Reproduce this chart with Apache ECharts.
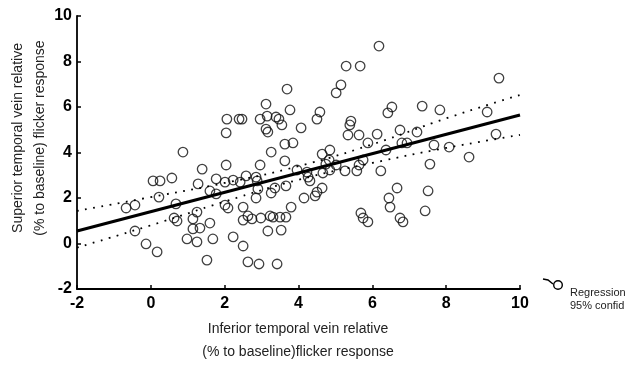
<!DOCTYPE html>
<html>
<head>
<meta charset="utf-8">
<script src="https://cdn.jsdelivr.net/npm/echarts@6/dist/echarts.min.js"></script>
<style>
html,body{margin:0;padding:0;background:#fff;}
#chart{width:633px;height:366px;}
</style>
</head>
<body>
<div id="chart"></div>
<script>
// Scatter values (inferior temporal vein, superior temporal vein)
const xValues = [6.18,5.29,5.67,3.69,5.15,5.02,9.43,3.12,3.77,4.58,4.50,2.06,2.39,2.47,2.96,3.15,3.39,3.47,3.55,3.12,3.17,4.07,2.04,5.42,5.39,5.34,5.64,3.63,3.85,3.26,4.85,4.64,5.88,6.42,6.53,7.35,7.83,9.11,6.13,6.75,7.21,6.80,6.94,6.37,7.67,8.08,9.35,8.62,0.87,
1.39,0.06,0.25,0.57,2.04,1.28,1.77,1.60,1.77,2.01,0.22,-0.67,-0.43,0.68,2.01,2.09,0.63,0.71,1.25,1.14,1.14,1.33,1.60,-0.43,0.98,1.25,1.68,-0.13,0.17,1.52,
3.63,2.96,2.58,2.85,2.88,2.42,2.23,2.90,3.36,3.26,3.66,2.85,3.96,2.50,3.80,2.63,2.50,2.74,2.98,3.23,3.31,3.50,3.66,3.17,3.53,2.23,2.50,2.63,2.93,3.42,
4.83,4.74,5.02,4.85,4.66,5.26,5.58,5.64,5.75,4.23,4.31,4.26,4.15,4.45,4.50,4.64,5.69,5.75,5.88,6.23,7.56,6.67,7.51,6.45,6.48,7.43,6.75,6.83];
const yValues = [8.68,7.80,7.80,6.79,6.97,6.62,7.27,6.13,5.87,5.78,5.47,5.47,5.47,5.47,5.47,5.60,5.56,5.47,5.21,5.03,4.90,5.08,4.86,5.38,5.21,4.77,4.77,4.37,4.42,4.02,4.11,3.93,4.42,5.74,6.00,6.04,5.87,5.78,4.81,4.99,4.90,4.42,4.42,4.11,4.33,4.24,4.81,3.80,4.02,
3.27,2.75,2.75,2.88,3.45,2.62,2.84,2.31,2.18,2.70,2.04,1.56,1.69,1.74,1.69,1.56,1.12,0.99,1.38,1.08,0.64,0.68,0.90,0.55,0.20,0.07,0.20,-0.02,-0.37,-0.73,
3.63,3.45,2.97,2.92,2.75,2.70,2.79,2.40,2.44,2.22,2.53,2.00,3.23,1.60,1.60,1.21,1.03,1.08,1.12,1.21,1.16,1.16,1.16,0.55,0.59,0.29,-0.11,-0.81,-0.90,-0.90,
3.67,3.49,3.45,3.23,3.10,3.19,3.19,3.45,3.67,3.14,2.75,2.92,2.00,2.09,2.26,2.44,1.34,1.12,0.95,3.19,3.49,2.44,2.31,2.00,1.60,1.43,1.12,0.95];

// Regression line end points and 95% confidence band
const regX = [-2, 10];
const regY = [0.55, 5.65];
const bandX = [-2, 0, 2, 4, 6, 8, 10];
const bandUpper = [1.43, 2.04, 2.66, 3.40, 4.36, 5.50, 6.53];
const bandLower = [-0.18, 0.80, 1.84, 2.80, 3.54, 4.20, 4.77];

// Axis tick labels
const xTicks = [-2, 0, 2, 4, 6, 8, 10];
const yTicks = [-2, 0, 2, 4, 6, 8, 10];

const xTitle = ['Inferior temporal vein relative', '(% to baseline)flicker response'];
const yTitle = ['Superior temporal vein relative', '(% to baseline) flicker response'];
const legendText = ['Regression', '95% confid'];

const font = '"Liberation Sans", Arial, Helvetica, sans-serif';
const zip = (a, b) => a.map((v, i) => [v, b[i]]);

const chart = echarts.init(document.getElementById('chart'), null, {renderer: 'canvas'});
const axisCommon = {
  interval: 2,
  axisLine: {show: true, onZero: false, lineStyle: {color: '#000', width: 1.8}},
  axisTick: {show: true, inside: true, length: 4, lineStyle: {color: '#000', width: 1.5}},
  splitLine: {show: false},
  axisLabel: {color: '#000', fontFamily: font, fontWeight: 'bold', fontSize: 16}
};
chart.setOption({
  animation: false,
  backgroundColor: '#fff',
  grid: {left: 77, right: 113, top: 16, bottom: 77, containLabel: false},
  xAxis: Object.assign({type: 'value'}, axisCommon, {
    min: xTicks[0], max: xTicks[xTicks.length - 1],
    axisLabel: Object.assign({}, axisCommon.axisLabel, {margin: 7})
  }),
  yAxis: Object.assign({type: 'value'}, axisCommon, {
    min: yTicks[0], max: yTicks[yTicks.length - 1],
    axisLabel: Object.assign({}, axisCommon.axisLabel, {margin: 5})
  }),
  series: [
    {
      type: 'scatter', data: zip(xValues, yValues), symbol: 'circle', symbolSize: 9.5,
      itemStyle: {color: 'rgba(255,255,255,0)', borderColor: '#111', borderWidth: 1.3},
      z: 2
    },
    {
      type: 'line', data: zip(regX, regY), symbol: 'none',
      lineStyle: {color: '#000', width: 3}, z: 3
    },
    {
      type: 'line', data: zip(bandX, bandUpper), symbol: 'none', smooth: true,
      lineStyle: {color: '#000', width: 1.8, type: [1.8, 6.5]}, z: 3
    },
    {
      type: 'line', data: zip(bandX, bandLower), symbol: 'none', smooth: true,
      lineStyle: {color: '#000', width: 1.8, type: [1.8, 6.5]}, z: 3
    }
  ],
  graphic: [
    {type: 'text', style: {text: xTitle[0], x: 298, y: 329, fill: '#222', font: '14px ' + font, textAlign: 'center', textVerticalAlign: 'middle'}},
    {type: 'text', style: {text: xTitle[1], x: 298, y: 352, fill: '#222', font: '14px ' + font, textAlign: 'center', textVerticalAlign: 'middle'}},
    {type: 'text', x: 18, y: 138, rotation: Math.PI / 2, style: {text: yTitle[0], x: 0, y: 0, fill: '#222', font: '14px ' + font, textAlign: 'center', textVerticalAlign: 'middle'}},
    {type: 'text', x: 40, y: 138, rotation: Math.PI / 2, style: {text: yTitle[1], x: 0, y: 0, fill: '#222', font: '14px ' + font, textAlign: 'center', textVerticalAlign: 'middle'}},
    {type: 'polyline', shape: {points: [[543, 279], [548, 280], [553, 284]]}, style: {stroke: '#000', lineWidth: 1.5, fill: null}},
    {type: 'circle', shape: {cx: 558, cy: 285, r: 4.3}, style: {stroke: '#000', lineWidth: 1.4, fill: 'rgba(0,0,0,0)'}},
    {type: 'text', style: {text: legendText[0], x: 570, y: 293, fill: '#222', font: '11px ' + font, textAlign: 'left', textVerticalAlign: 'middle'}},
    {type: 'text', style: {text: legendText[1], x: 570, y: 306, fill: '#222', font: '11px ' + font, textAlign: 'left', textVerticalAlign: 'middle'}}
  ]
});
</script>
</body>
</html>
